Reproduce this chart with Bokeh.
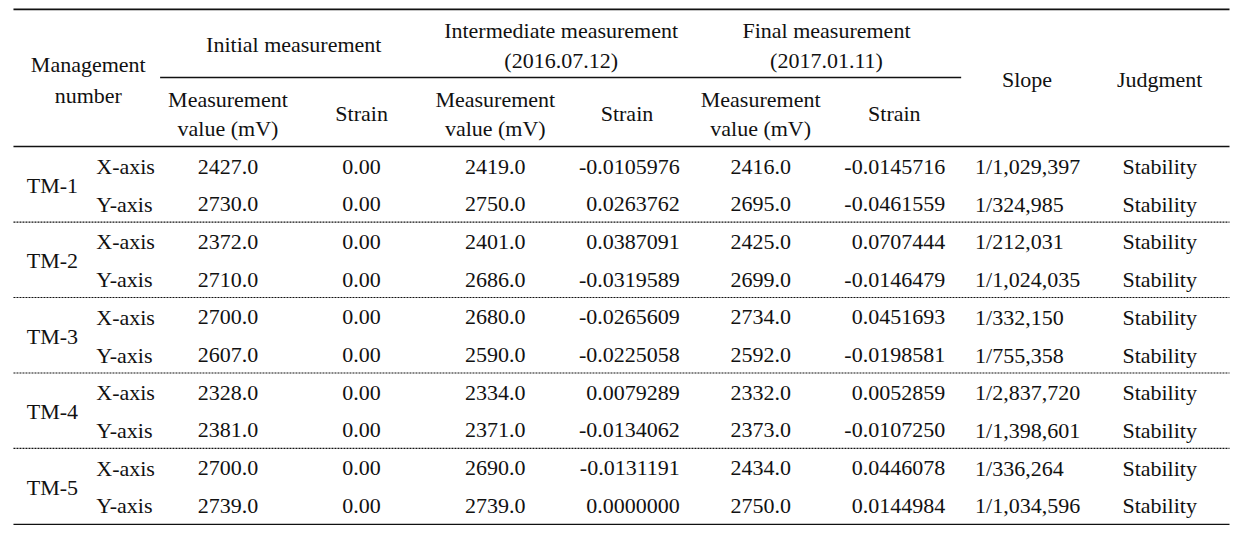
from bokeh.plotting import figure
from bokeh.models import Range1d, ColumnDataSource
from bokeh.core.properties import value
from bokeh.embed import file_html
from bokeh.resources import INLINE

# ---- data ----
management = ["TM-1", "TM-2", "TM-3", "TM-4", "TM-5"]
axis_names = ["X-axis", "Y-axis"] * 5
initial_mv = [2427.0, 2730.0, 2372.0, 2710.0, 2700.0, 2607.0, 2328.0, 2381.0, 2700.0, 2739.0]
initial_strain = [0.0] * 10
mid_mv = [2419.0, 2750.0, 2401.0, 2686.0, 2680.0, 2590.0, 2334.0, 2371.0, 2690.0, 2739.0]
mid_strain = [-0.0105976, 0.0263762, 0.0387091, -0.0319589, -0.0265609, -0.0225058,
              0.0079289, -0.0134062, -0.0131191, 0.0000000]
final_mv = [2416.0, 2695.0, 2425.0, 2699.0, 2734.0, 2592.0, 2332.0, 2373.0, 2434.0, 2750.0]
final_strain = [-0.0145716, -0.0461559, 0.0707444, -0.0146479, 0.0451693, -0.0198581,
                0.0052859, -0.0107250, 0.0446078, 0.0144984]
slope = ["1/1,029,397", "1/324,985", "1/212,031", "1/1,024,035", "1/332,150",
         "1/755,358", "1/2,837,720", "1/1,398,601", "1/336,264", "1/1,034,596"]
judgment = ["Stability"] * 10

# ---- layout ----
FONT = value("Liberation Serif")
FS = "22px"
COL = "#111111"

p = figure(width=1230, height=525, output_backend="svg", toolbar_location=None,
           x_range=Range1d(0, 1233), y_range=Range1d(532, 0),
           min_border=0, outline_line_color=None)
p.axis.visible = False
p.grid.visible = False
p.background_fill_color = "white"
p.border_fill_color = "white"


def txt(xs, ys, texts, align="center"):
    src = ColumnDataSource(dict(x=xs, y=ys, t=texts))
    p.text("x", "y", text="t", source=src, text_font=FONT, text_font_size=FS,
           text_align=align, text_baseline="middle", text_color=COL)


# header texts
txt([88, 88], [65, 96], ["Management", "number"])
txt([294], [45], ["Initial measurement"])
txt([562, 562], [30, 61], ["Intermediate measurement", "(2016.07.12)"])
txt([828, 828], [30, 61], ["Final measurement", "(2017.01.11)"])
for cx in [228, 496, 762]:
    txt([cx, cx], [100, 130], ["Measurement", "value (mV)"])
txt([362, 628, 896], [115, 115, 115], ["Strain", "Strain", "Strain"])
txt([1029, 1162], [80, 80], ["Slope", "Judgment"])

# body rows
n = len(axis_names)
ys = [168.3 + 38.2 * i for i in range(n)]
txt([52] * 5, [(ys[2 * k] + ys[2 * k + 1]) / 2 for k in range(5)], management)
txt([96] * n, ys, axis_names, align="left")
txt([228] * n, ys, [f"{v:.1f}" for v in initial_mv])
txt([362] * n, ys, [f"{v:.2f}" for v in initial_strain])
txt([496] * n, ys, [f"{v:.1f}" for v in mid_mv])
txt([681] * n, ys, [f"{v:.7f}" for v in mid_strain], align="right")
txt([762] * n, ys, [f"{v:.1f}" for v in final_mv])
txt([947] * n, ys, [f"{v:.7f}" for v in final_strain], align="right")
txt([977] * n, ys, slope, align="left")
txt([1162] * n, ys, judgment)

# rules
LW = 1.6
p.segment(x0=[13, 160, 13, 13], y0=[9, 78, 148, 531],
          x1=[1232, 963, 1232, 1232], y1=[9, 78, 148, 531],
          line_color=COL, line_width=LW)
div_y = [(ys[2 * k + 1] + ys[2 * k + 2]) / 2 - 1 for k in range(4)]
p.segment(x0=[13] * 4, y0=div_y, x1=[1232] * 4, y1=div_y,
          line_color=COL, line_width=1.1, line_dash="2 1")

open("out.html", "w").write(file_html(p, INLINE))
